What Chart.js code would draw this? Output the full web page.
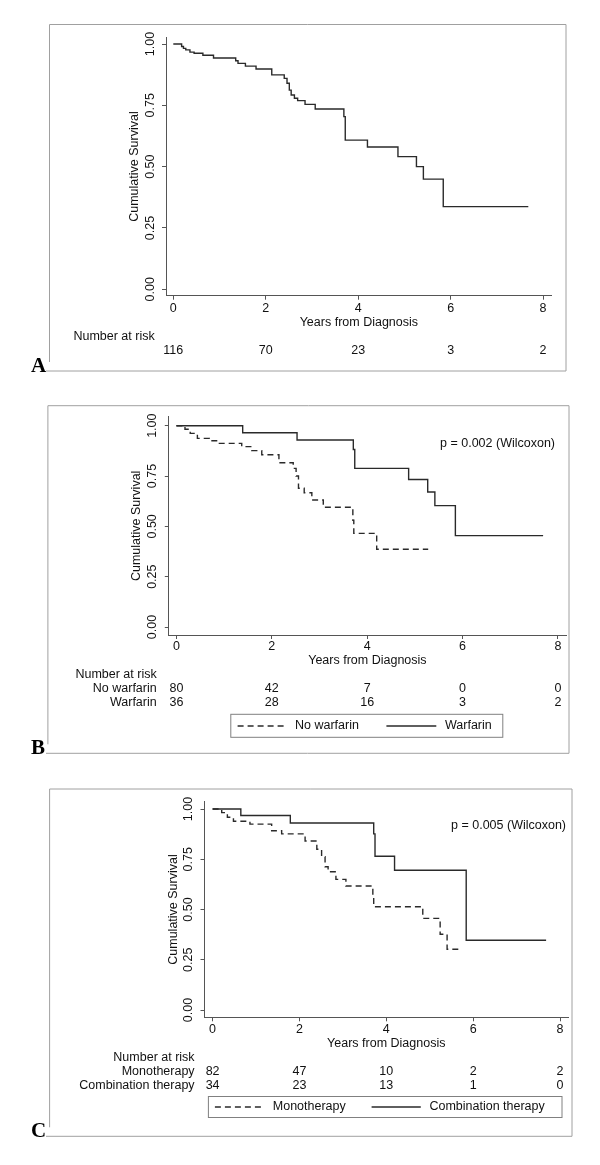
<!DOCTYPE html>
<html>
<head>
<meta charset="utf-8">
<script src="https://cdn.jsdelivr.net/npm/chart.js@4.4.0/dist/chart.umd.min.js"></script>
<style>
    body { margin: 0; background: #fff; width: 600px; height: 1165px; position: relative; overflow: hidden; }
    canvas { position: absolute; left: 0; }
</style>
</head>
<body>
<canvas id="chartA" width="600" height="385" style="top:0px"></canvas>
<canvas id="chartB" width="600" height="385" style="top:385px"></canvas>
<canvas id="chartC" width="600" height="395" style="top:770px"></canvas>
<script>
// shared axis values
const yearTicks = [0, 2, 4, 6, 8];
const survivalTicks = [0, 0.25, 0.5, 0.75, 1];
const xTitle = 'Years from Diagnosis';
const yTitle = 'Cumulative Survival';
const riskHeader = 'Number at risk';

// panel A - all patients
const allTimes = [0, 0.18, 0.22, 0.27, 0.36, 0.45, 0.64, 0.87, 1.35, 1.40, 1.56, 1.79, 2.13, 2.40, 2.46, 2.51, 2.55, 2.62, 2.69, 2.85, 3.07, 3.69, 3.72, 4.20, 4.86, 5.26, 5.41, 5.84, 7.68];
const allSurv = [1, 0.99, 0.982, 0.976, 0.967, 0.962, 0.954, 0.943, 0.932, 0.921, 0.910, 0.898, 0.874, 0.860, 0.840, 0.812, 0.792, 0.779, 0.769, 0.754, 0.735, 0.704, 0.608, 0.580, 0.541, 0.500, 0.449, 0.337, 0.337];
const allAtRisk = [116, 70, 23, 3, 2];

// panel B - warfarin
const warfarinLabels = ['No warfarin', 'Warfarin'];
const noWarfarinTimes = [0, 0.18, 0.29, 0.44, 0.69, 0.86, 1.37, 1.58, 1.79, 2.15, 2.45, 2.51, 2.56, 2.68, 2.84, 3.08, 3.70, 3.72, 4.20, 5.28];
const noWarfarinSurv = [1, 0.982, 0.962, 0.937, 0.925, 0.912, 0.896, 0.876, 0.856, 0.816, 0.788, 0.750, 0.689, 0.667, 0.631, 0.595, 0.530, 0.465, 0.386, 0.386];
const warfarinTimes = [0, 1.39, 2.53, 3.71, 3.74, 4.87, 5.27, 5.42, 5.85, 7.69];
const warfarinSurv = [1, 0.965, 0.929, 0.882, 0.788, 0.733, 0.671, 0.603, 0.454, 0.454];
const noWarfarinAtRisk = [80, 42, 7, 0, 0];
const warfarinAtRisk = [36, 28, 16, 3, 2];
const warfarinP = 'p = 0.002 (Wilcoxon)';

// panel C - therapy
const therapyLabels = ['Monotherapy', 'Combination therapy'];
const monoTimes = [0, 0.21, 0.34, 0.48, 0.86, 1.36, 1.59, 2.13, 2.40, 2.51, 2.59, 2.66, 2.84, 3.07, 3.69, 3.71, 4.84, 5.24, 5.40, 5.68];
const monoSurv = [1, 0.982, 0.959, 0.939, 0.925, 0.892, 0.876, 0.841, 0.800, 0.763, 0.713, 0.688, 0.650, 0.617, 0.570, 0.514, 0.456, 0.377, 0.302, 0.302];
const comboTimes = [0, 0.65, 1.79, 3.71, 3.74, 4.19, 5.84, 7.68];
const comboSurv = [1, 0.968, 0.930, 0.876, 0.765, 0.695, 0.347, 0.347];
const monoAtRisk = [82, 47, 10, 2, 2];
const comboAtRisk = [34, 23, 13, 1, 0];
const therapyP = 'p = 0.005 (Wilcoxon)';

// styles
const FONT = '"Liberation Sans", Arial, Helvetica, sans-serif';
const FS = 12.5;
const LH = FS * 1.2;
const INK = '#111';
const AXIS = '#555';
const CURVE = '#2a2a2a';
const FRAME = '#a0a0a0';
const TICK_LEN = 4;
const DASH = [6, 4];

Chart.defaults.font.family = FONT;
Chart.defaults.font.size = FS;
Chart.defaults.color = INK;

function toPoints(times, surv) {
    return times.map((t, i) => ({ x: t, y: surv[i] }));
}

function textWidth(text) {
    const c = document.createElement('canvas').getContext('2d');
    c.font = FS + 'px ' + FONT;
    return c.measureText(text).width;
}

// page-pixel layout of each panel
const geoA = {
    canvasTop: 0, canvasH: 385,
    left: 166, right: 551.7, top: 37.4, bottom: 295.7,
    x0: 173.3, x8: 543.1, y1: 44, y0: 289.3,
    yTickX: 150.5, yTitleX: 135, xTickY: 308.6, xTitleY: 322.9,
    frame: [49.5, 24.5, 566, 371], letter: 'A',
    riskHeaderY: 336.8, riskRowsY: [350.8], riskLabelRight: 154.7
};
const geoB = {
    canvasTop: 385, canvasH: 385,
    left: 168.8, right: 566, top: 416.7, bottom: 635,
    x0: 176.4, x8: 557.9, y1: 425.7, y0: 627,
    yTickX: 152.2, yTitleX: 136.7, xTickY: 646.7, xTitleY: 661,
    frame: [47.9, 405.7, 569, 753.3], letter: 'B',
    riskHeaderY: 675, riskRowsY: [688.3, 702.3], riskLabelRight: 156.7,
    legendBox: [230.8, 714.3, 502.8, 737.3], legendItems: [[237.6, 287.6, 295], [386.4, 436.3, 445]], legendTextY: 726,
    pRight: 555, pY: 443.3
};
const geoC = {
    canvasTop: 770, canvasH: 395,
    left: 204.5, right: 568, top: 801.7, bottom: 1017.3,
    x0: 212.6, x8: 560, y1: 809, y0: 1010,
    yTickX: 188.4, yTitleX: 173.9, xTickY: 1029.3, xTitleY: 1044,
    frame: [49.6, 789, 572, 1136.3], letter: 'C',
    riskHeaderY: 1057.3, riskRowsY: [1071.7, 1085.7], riskLabelRight: 194.6,
    legendBox: [208.4, 1096.5, 562, 1117.5], legendItems: [[214.9, 264.2, 272.8], [371.6, 420.8, 429.4]], legendTextY: 1107,
    pRight: 566, pY: 825.7
};

function makePanel(id, g, series, riskRows, pText) {
    const loc = y => y - g.canvasTop;
    const pxYear = (g.x8 - g.x0) / 8;
    const pxUnit = g.y0 - g.y1;
    const xMin = (g.left - g.x0) / pxYear;
    const xMax = 8 + (g.right - g.x8) / pxYear;
    const yMax = 1 + (g.y1 - g.top) / pxUnit;
    const yMin = -(g.bottom - g.y0) / pxUnit;
    const widest = textWidth('1.00');
    const titleBottom = g.xTitleY + LH / 2;

    // frame, letter, risk table, legend and p value
    const extras = {
        id: 'extras' + id,
        afterDraw(chart) {
            const ctx = chart.ctx;
            const xs = chart.scales.x;
            const [fl, ft, fr, fb] = g.frame;
            ctx.save();
            ctx.strokeStyle = FRAME;
            ctx.lineWidth = 1;
            ctx.beginPath();
            ctx.moveTo(fl, loc(fb) - 9);
            ctx.lineTo(fl, loc(ft));
            ctx.lineTo(fr, loc(ft));
            ctx.lineTo(fr, loc(fb));
            ctx.lineTo(46, loc(fb));
            ctx.stroke();

            ctx.fillStyle = '#000';
            ctx.font = 'bold 21px "Liberation Serif", "Times New Roman", serif';
            ctx.textAlign = 'left';
            ctx.textBaseline = 'alphabetic';
            ctx.fillText(g.letter, 31, loc(fb) + 1);

            ctx.font = FS + 'px ' + FONT;
            ctx.fillStyle = INK;
            ctx.textBaseline = 'middle';
            ctx.textAlign = 'right';
            ctx.fillText(riskHeader, g.riskLabelRight, loc(g.riskHeaderY));
            riskRows.forEach((row, r) => {
                const y = loc(g.riskRowsY[r]);
                ctx.textAlign = 'right';
                if (row.label) ctx.fillText(row.label, g.riskLabelRight, y);
                ctx.textAlign = 'center';
                row.counts.forEach((n, i) => {
                    ctx.fillText(String(n), xs.getPixelForValue(yearTicks[i]), y);
                });
            });

            if (g.legendBox) {
                const [bl, bt, br, bb] = g.legendBox;
                ctx.strokeStyle = '#808080';
                ctx.strokeRect(bl, loc(bt), br - bl, bb - bt);
                const ty = loc(g.legendTextY);
                series.forEach((s, i) => {
                    const [s0, s1, tx] = g.legendItems[i];
                    ctx.strokeStyle = CURVE;
                    ctx.lineWidth = 1.3;
                    ctx.setLineDash(s.dash);
                    ctx.beginPath();
                    ctx.moveTo(s0, ty);
                    ctx.lineTo(s1, ty);
                    ctx.stroke();
                    ctx.setLineDash([]);
                    ctx.textAlign = 'left';
                    ctx.fillText(s.label, tx, ty);
                });
            }
            if (pText) {
                ctx.textAlign = 'right';
                ctx.fillText(pText, g.pRight, loc(g.pY));
            }
            ctx.restore();
        }
    };

    return new Chart(document.getElementById(id).getContext('2d'), {
        type: 'line',
        data: {
            datasets: series.map(s => ({
                label: s.label,
                data: s.points,
                stepped: true,
                borderColor: CURVE,
                borderWidth: 1.4,
                borderDash: s.dash,
                pointRadius: 0,
                fill: false
            }))
        },
        options: {
            responsive: false,
            animation: false,
            layout: {
                padding: { left: 0, top: loc(g.top), right: 600 - g.right, bottom: g.canvasH - loc(titleBottom) }
            },
            plugins: { legend: { display: false }, tooltip: { enabled: false } },
            scales: {
                x: {
                    type: 'linear', min: xMin, max: xMax,
                    afterBuildTicks: s => { s.ticks = yearTicks.map(v => ({ value: v })); },
                    afterFit: s => { s.height = titleBottom - g.bottom; },
                    grid: { drawOnChartArea: false, tickLength: TICK_LEN, color: AXIS, tickColor: AXIS },
                    border: { display: true, color: AXIS, width: 1 },
                    ticks: { padding: g.xTickY - g.bottom - TICK_LEN - LH / 2, minRotation: 0, maxRotation: 0, autoSkip: false, color: INK },
                    title: { display: true, text: xTitle, color: INK, padding: { top: 0, bottom: 0 } }
                },
                y: {
                    type: 'linear', min: yMin, max: yMax,
                    afterBuildTicks: s => { s.ticks = survivalTicks.map(v => ({ value: v })); },
                    afterFit: s => { s.width = g.left; },
                    grid: { drawOnChartArea: false, tickLength: TICK_LEN, color: AXIS, tickColor: AXIS },
                    border: { display: true, color: AXIS, width: 1 },
                    ticks: {
                        padding: g.left - g.yTickX - TICK_LEN - widest / 2,
                        minRotation: 90, maxRotation: 90, crossAlign: 'center', autoSkip: false, color: INK,
                        callback: v => v.toFixed(2)
                    },
                    title: { display: true, text: yTitle, color: INK, padding: { top: g.yTitleX - LH / 2, bottom: 0 } }
                }
            }
        },
        plugins: [extras]
    });
}

makePanel('chartA', geoA,
    [{ label: 'All', points: toPoints(allTimes, allSurv), dash: [] }],
    [{ label: '', counts: allAtRisk }], null);

makePanel('chartB', geoB,
    [
        { label: warfarinLabels[0], points: toPoints(noWarfarinTimes, noWarfarinSurv), dash: DASH },
        { label: warfarinLabels[1], points: toPoints(warfarinTimes, warfarinSurv), dash: [] }
    ],
    [
        { label: warfarinLabels[0], counts: noWarfarinAtRisk },
        { label: warfarinLabels[1], counts: warfarinAtRisk }
    ], warfarinP);

makePanel('chartC', geoC,
    [
        { label: therapyLabels[0], points: toPoints(monoTimes, monoSurv), dash: DASH },
        { label: therapyLabels[1], points: toPoints(comboTimes, comboSurv), dash: [] }
    ],
    [
        { label: therapyLabels[0], counts: monoAtRisk },
        { label: therapyLabels[1], counts: comboAtRisk }
    ], therapyP);
</script>
</body>
</html>
